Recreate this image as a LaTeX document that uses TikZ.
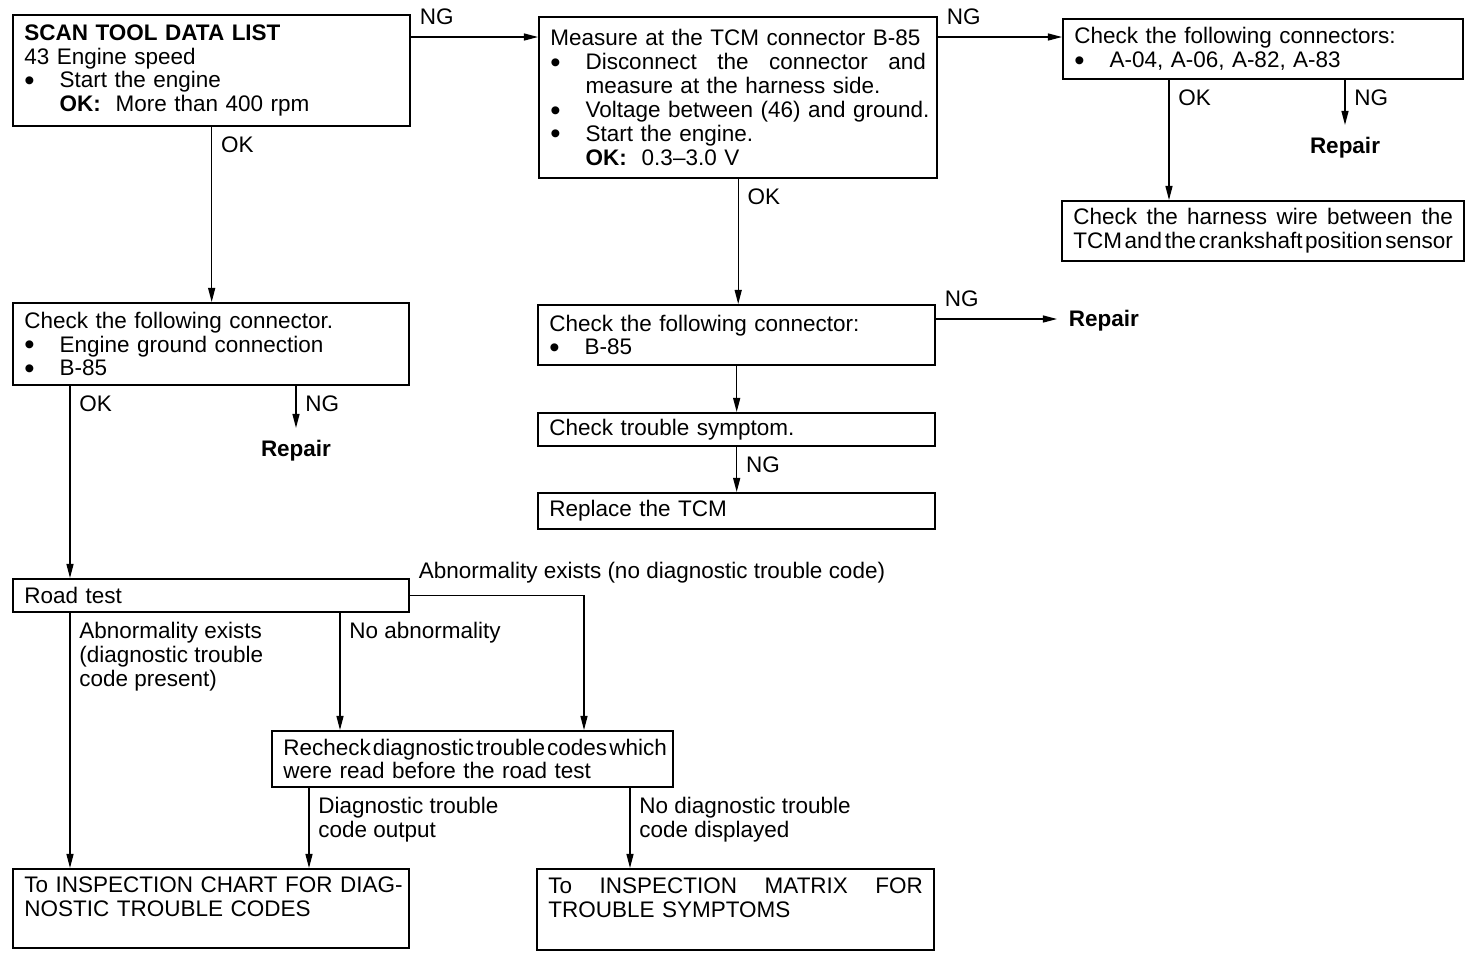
\documentclass[tikz,border=0pt]{standalone}
\usepackage{fontspec}
\setmainfont{Liberation Sans}
\usetikzlibrary{arrows.meta,calc}
\newcommand{\bulitem}{\makebox[20pt][l]{\raisebox{-1.5pt}[0pt][0pt]{\scalebox{1.3}{\textbullet}}}}
\newcommand{\bulgap}{\hspace*{20pt}}

\begin{document}
\begin{tikzpicture}[x=0.02cm,y=-0.02cm,>={Triangle[length=8pt,width=4pt]},
	box/.style={draw, line width=1.1pt, anchor=north west, align=left, inner xsep=6.5pt, inner ysep=2pt, font=\fontsize{12.8}{13.6}\selectfont},
	lbl/.style={font=\fontsize{12.8}{13.6}\selectfont, align=left, inner sep=2pt},
	ngl/.style={lbl, anchor=south west, xshift=2.5pt, yshift=4.5pt},
	okl/.style={lbl, anchor=north west, xshift=3pt, yshift=-3pt},
	rep/.style={font=\fontsize{12.8}{13.6}\selectfont\bfseries, inner sep=6.5pt},
	link/.style={->, line width=0.7pt}]
		\useasboundingbox (0,0) rectangle (1472,958);

		\node (scan) at (12,14) [box, text width=213.2pt, minimum height=2.22cm] {\textbf{SCAN TOOL DATA LIST}\\ 43 Engine speed\\ \bulitem Start the engine\\ \bulgap\textbf{OK:}\ \ More than 400 rpm};
		\node (measure) at (538,16) [box, text width=213.8pt, minimum height=3.22cm] {Measure at the TCM connector B-85\\ \bulitem Disconnect\hfill the\hfill connector\hfill and\\ \bulgap measure at the harness side.\\ \mbox{\bulitem Voltage between (46) and ground.}\\ \bulitem Start the engine.\\ \bulgap\textbf{OK:}\ \ 0.3--3.0 V};
		\node (conn) at (1062,18) [box, text width=214.9pt, minimum height=1.2cm] {Check the following connectors:\\ \bulitem A-04, A-06, A-82, A-83};
		\node (harness) at (1061,200) [box, text width=216pt, minimum height=1.2cm] {Check\hfill the\hfill harness\hfill wire\hfill between\hfill the\\ \mbox{\spaceskip=1.5pt TCM and the crankshaft position sensor}};
		\node (chkgnd) at (12,302) [box, text width=212.6pt, minimum height=1.64cm] {Check the following connector.\\ \bulitem Engine ground connection\\ \bulitem B-85};
		\node (chkb) at (537,304) [box, text width=213.2pt, minimum height=1.2cm] {Check the following connector:\\ \bulitem B-85};
		\node (symptom) at (537,412) [box, text width=213.2pt, minimum height=0.66cm] {Check trouble symptom.};
		\node (replace) at (537,492) [box, text width=213.2pt, minimum height=0.72cm] {Replace the TCM};
		\node (road) at (12,578) [box, text width=212.6pt, minimum height=0.66cm] {Road test};
		\node (recheck) at (271,730) [box, text width=215.5pt, minimum height=1.12cm] {\mbox{\spaceskip=1.2pt Recheck diagnostic trouble codes which}\\ were read before the road test};
		\node (chart) at (12,868) [box, text width=212.6pt, minimum height=1.58cm] {\mbox{To INSPECTION CHART FOR DIAG-}\\ NOSTIC TROUBLE CODES\\ \mbox{}};
		\node (matrix) at (536,868) [box, text width=213.2pt, minimum height=1.62cm] {To\hfill INSPECTION\hfill MATRIX\hfill FOR\\ TROUBLE SYMPTOMS\\ \mbox{}};

		\node (rep1) at (1345,153) [rep, anchor=base] {Repair};
		\node (rep2) at (296,456) [rep, anchor=base] {Repair};
		\node (rep3) at (1057,326) [rep, anchor=base west] {Repair};

		\coordinate (a1) at ($(scan.north east)+(0,23)$);
		\coordinate (a2) at ($(measure.north east)+(0,21)$);
		\coordinate (a3) at ($(conn.south west)+(107,0)$);
		\coordinate (a4) at ($(chkgnd.south west)+(58,0)$);
		\coordinate (a5) at ($(chkb.north east)+(0,15)$);
		\coordinate (a6) at ($(road.south west)+(58,0)$);
		\coordinate (a7) at ($(road.south west)+(328,0)$);
		\coordinate (a8) at ($(recheck.north west)+(313,0)$);
		\coordinate (a9) at ($(recheck.south west)+(38,0)$);
		\coordinate (a10) at ($(recheck.south west)+(359,0)$);

		\draw [link] (a1) -- (a1 -| measure.west) node[pos=0, ngl] {NG};
		\draw [link] (a2) -- (a2 -| conn.west) node[pos=0, ngl] {NG};
		\draw [link] (scan.south) -- (scan.south |- chkgnd.north) node[pos=0, okl] {OK};
		\draw [link] (measure.south) -- (measure.south |- chkb.north) node[pos=0, okl] {OK};
		\draw [link] (a3) -- (a3 |- harness.north) node[pos=0, okl] {OK};
		\draw [link] (conn.south -| rep1.north) -- (rep1.north) node[pos=0, okl] {NG};
		\draw [link] (a4) -- (a4 |- road.north) node[pos=0, okl] {OK};
		\draw [link] (chkgnd.south -| rep2.north) -- (rep2.north) node[pos=0, okl] {NG};
		\draw [link] (a5) -- (a5 -| rep3.west) node[pos=0, ngl] {NG};
		\draw [link] (chkb.south) -- (chkb.south |- symptom.north);
		\draw [link] (symptom.south) -- (symptom.south |- replace.north) node[pos=0, okl] {NG};

		\draw [link] (a6) -- (a6 |- chart.north) node[pos=0, okl] {Abnormality exists\\(diagnostic trouble\\code present)};
		\draw [link] (a7) -- (a7 |- recheck.north) node[pos=0, okl] {No abnormality};
		\draw [link] (road.east) -| (a8) node[pos=0, ngl] {Abnormality exists (no diagnostic trouble code)};
		\draw [link] (a9) -- (a9 |- chart.north) node[pos=0, okl] {Diagnostic trouble\\code output};
		\draw [link] (a10) -- (a10 |- matrix.north) node[pos=0, okl] {No diagnostic trouble\\code displayed};
	\end{tikzpicture}
\end{document}
